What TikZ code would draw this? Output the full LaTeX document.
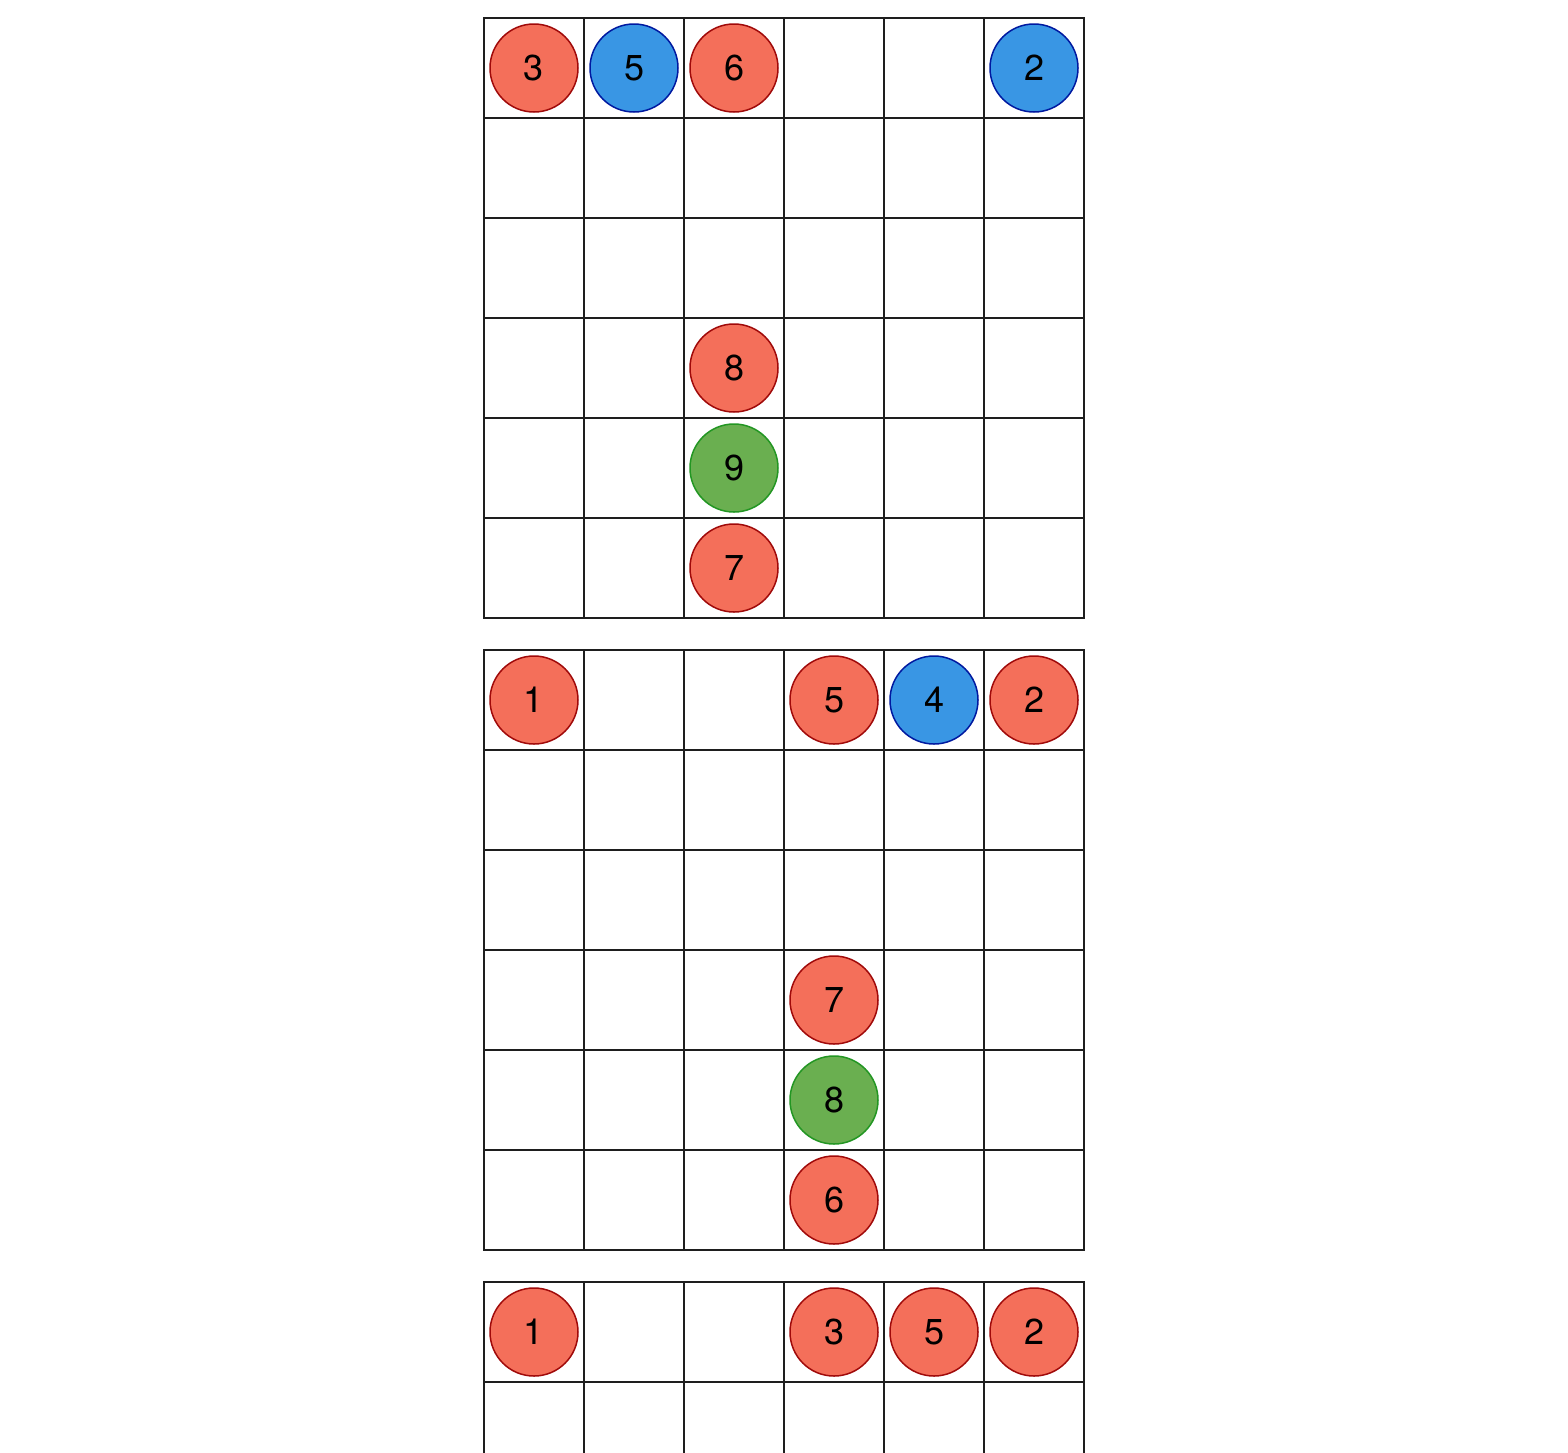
\documentclass[tikz,border=0pt]{standalone}
\usepackage{fontspec}
\setmainfont{TeX Gyre Heros}
\definecolor{redfill}{RGB}{244,111,90}
\definecolor{redline}{RGB}{160,10,10}
\definecolor{bluefill}{RGB}{57,150,228}
\definecolor{blueline}{RGB}{0,25,160}
\definecolor{greenfill}{RGB}{106,175,80}
\definecolor{greenline}{RGB}{35,150,35}
\definecolor{gridline}{RGB}{30,30,30}
\tikzset{
  ball/.style={circle, minimum size=88pt, inner sep=0pt, line width=1.5pt,
    font=\fontsize{36}{42}\selectfont, text=black},
  redball/.style={ball, draw=redline, fill=redfill},
  blueball/.style={ball, draw=blueline, fill=bluefill},
  greenball/.style={ball, draw=greenline, fill=greenfill},
  gridstyle/.style={draw=gridline, line width=1.5pt, line cap=rect}
}
\begin{document}
\begin{tikzpicture}[x=1pt,y=-1pt]
\useasboundingbox (0,0) rectangle (1568,1452);
\fill[white] (0,0) rectangle (1568,1452);
\begin{scope}
\clip (0,0) rectangle (1568,1452);
% grids 1 and 2
\foreach \top in {18,650} {
  \foreach \x in {484,584,...,1084} \draw[gridstyle] (\x,\top) -- (\x,\top+600);
  \foreach \k in {0,...,6} \draw[gridstyle] (484,\top+100*\k) -- (1084,\top+100*\k);
}
% grid 3
\foreach \x in {484,584,...,1084} \draw[gridstyle] (\x,1282) -- (\x,1470);
\foreach \y in {1282,1382} \draw[gridstyle] (484,\y) -- (1084,\y);
\end{scope}
% grid 1 balls
\node[redball]   (a3) at (534,68)  {3};
\node[blueball]  (a5) at (634,68)  {5};
\node[redball]   (a6) at (734,68)  {6};
\node[blueball]  (a2) at (1034,68) {2};
\node[redball]   (a8) at (734,368) {8};
\node[greenball] (a9) at (734,468) {9};
\node[redball]   (a7) at (734,568) {7};
% grid 2 balls
\node[redball]   (b1) at (534,700)  {1};
\node[redball]   (b5) at (834,700)  {5};
\node[blueball]  (b4) at (934,700)  {4};
\node[redball]   (b2) at (1034,700) {2};
\node[redball]   (b7) at (834,1000) {7};
\node[greenball] (b8) at (834,1100) {8};
\node[redball]   (b6) at (834,1200) {6};
% grid 3 balls
\node[redball]   (c1) at (534,1332)  {1};
\node[redball]   (c3) at (834,1332)  {3};
\node[redball]   (c5) at (934,1332)  {5};
\node[redball]   (c2) at (1034,1332) {2};
\end{tikzpicture}
\end{document}
